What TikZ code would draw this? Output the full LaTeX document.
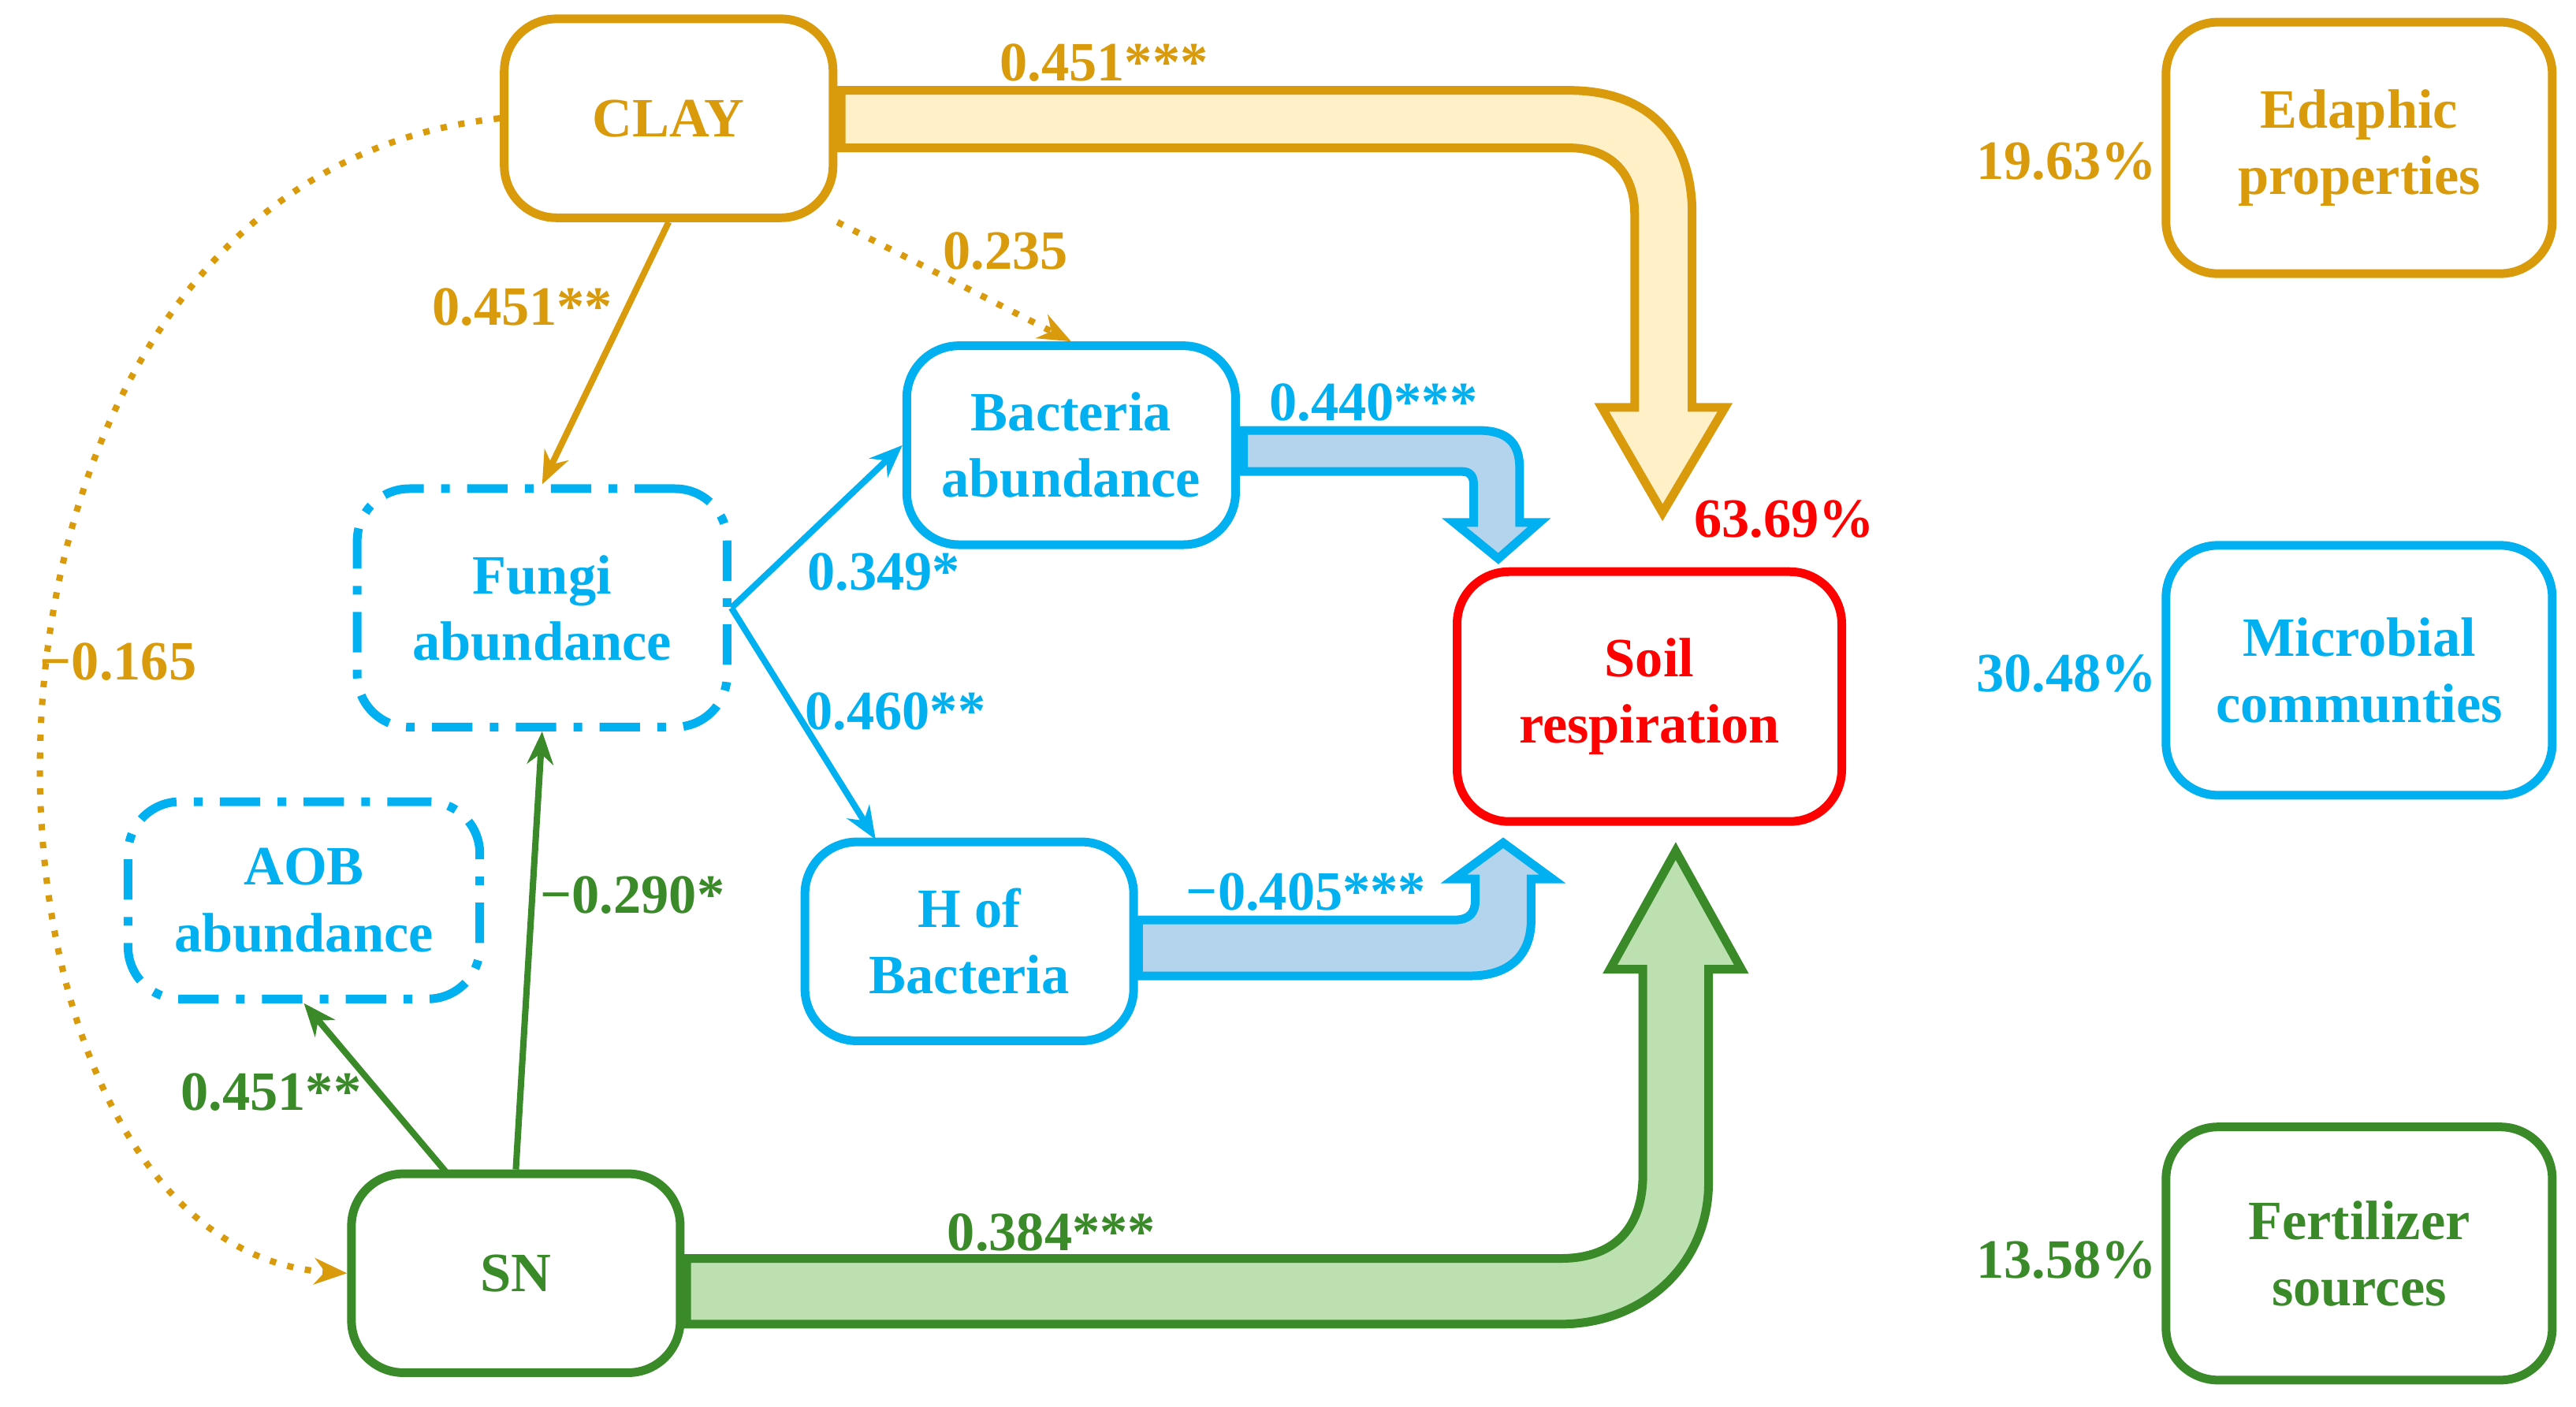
\documentclass[tikz,border=0pt]{standalone}
\usepackage{fontspec}
\setmainfont{Liberation Serif}
\usetikzlibrary{arrows.meta,positioning}
\definecolor{gold}{HTML}{D99A0B}
\definecolor{cyanb}{HTML}{00B0F0}
\definecolor{grn}{HTML}{3A8A2A}
\definecolor{lgold}{HTML}{FFF0C8}
\definecolor{lblue}{HTML}{B4D4EE}
\definecolor{lgrn}{HTML}{BCE0B0}
\tikzset{
    box/.style={
        draw,
        rounded corners=9pt,
        line width=1.5pt,
        minimum width=2cm,
        minimum height=1.21cm,
        align=center,
        font=\fontsize{9.6}{11.5}\selectfont\bfseries
    },
    dashbox/.style={dash pattern=on 7pt off 3pt on 1.5pt off 3pt},
    lab/.style={font=\fontsize{9.6}{11.5}\selectfont\bfseries},
    link/.style={-{Stealth[length=2mm, width=1.6mm]}, line width=1.1pt}
}
\begin{document}
\begin{tikzpicture}[x=0.01cm, y=-0.01cm]
    \useasboundingbox (0,0) rectangle (1568,856);
    % Boxes
    \node[box, gold, text=gold] (clay) at (407,72) {CLAY};
    \node[box, gold, text=gold, minimum width=2.35cm, minimum height=1.53cm] (eda) at (1436,90) {Edaphic\\properties};
    \node[box, cyanb, text=cyanb] (bact) at (652,271) {Bacteria\\abundance};
    \node[box, cyanb, text=cyanb, dashbox, minimum width=2.25cm, minimum height=1.45cm] (fungi) at (330,370) {Fungi\\abundance};
    \node[box, red, text=red, minimum width=2.34cm, minimum height=1.52cm] (soil) at (1004,424) {Soil\\respiration};
    \node[box, cyanb, text=cyanb, minimum width=2.35cm, minimum height=1.52cm] (micro) at (1436,408) {Microbial\\communties};
    \node[box, cyanb, text=cyanb, dashbox, minimum width=2.14cm, minimum height=1.2cm] (aob) at (185,548) {AOB\\abundance};
    \node[box, cyanb, text=cyanb] (hbact) at (590,573) {H of\\Bacteria};
    \node[box, grn, text=grn] (sn) at (314,775) {SN};
    \node[box, grn, text=grn, minimum width=2.35cm, minimum height=1.54cm] (fert) at (1436,763) {Fertilizer\\sources};
    \coordinate (hin) at (533,511);
    \coordinate (snl) at (272,714);

    % Wide arrows
    \draw[gold, fill=lgold, line width=1.5pt] (512,55) -- (955,55) .. controls (1005,55) and (1030,85) .. (1030,130)
        -- (1030,248) -- (1050,248) -- (1012,312) -- (975,248) -- (995,248) -- (995,130)
        .. controls (995,105) and (980,90) .. (955,90) -- (512,90) -- cycle;
    \draw[cyanb, fill=lblue, line width=1.5pt] (757,262) -- (900,262) .. controls (918,262) and (925,270) .. (925,285)
        -- (925,318) -- (937,318) -- (912,340) -- (885,318) -- (897,318) -- (897,295)
        .. controls (897,290) and (895,287) .. (890,287) -- (757,287) -- cycle;
    \draw[cyanb, fill=lblue, line width=1.5pt] (693,560) -- (885,560) .. controls (895,560) and (898,555) .. (898,548)
        -- (898,535) -- (885,535) -- (915,513) -- (945,535) -- (932,535) -- (932,560)
        .. controls (932,582) and (918,594) .. (895,594) -- (693,594) -- cycle;
    \draw[grn, fill=lgrn, line width=1.5pt] (418,766) -- (950,766) .. controls (985,766) and (1000,745) .. (1000,715)
        -- (1000,590) -- (980,590) -- (1020,518) -- (1060,590) -- (1040,590) -- (1040,720)
        .. controls (1040,770) and (1000,806) .. (950,806) -- (418,806) -- cycle;

    % Thin arrows
    \draw[link, gold] (clay.south) -- (fungi.north);
    \draw[link, gold, dotted] (clay.south east) -- (bact.north);
    \draw[link, gold, dotted] (clay.west) .. controls (-60,110) and (-40,760) .. (sn.west);
    \draw[link, cyanb] (fungi.east) -- (bact.west);
    \draw[link, cyanb] (fungi.east) -- (hin);
    \draw[link, grn] (sn.north) -- (fungi.south);
    \draw[link, grn] (snl) -- (aob.south);

    % Labels
    \node[lab, gold] at (672,38) {0.451***};
    \node[lab, gold] at (318,187) {0.451**};
    \node[lab, gold] at (612,153) {0.235};
    \node[lab, gold] at (72,403) {−0.165};
    \node[lab, cyanb] at (836,245) {0.440***};
    \node[lab, cyanb] at (538,348) {0.349*};
    \node[lab, cyanb] at (545,433) {0.460**};
    \node[lab, cyanb] at (795,543) {−0.405***};
    \node[lab, grn] at (385,545) {−0.290*};
    \node[lab, grn] at (165,665) {0.451**};
    \node[lab, grn] at (640,750) {0.384***};
    \node[lab, red] at (1086,316) {63.69\%};
    \node[lab, gold] at (1258,98) {19.63\%};
    \node[lab, cyanb] at (1258,410) {30.48\%};
    \node[lab, grn] at (1258,767) {13.58\%};
\end{tikzpicture}
\end{document}
